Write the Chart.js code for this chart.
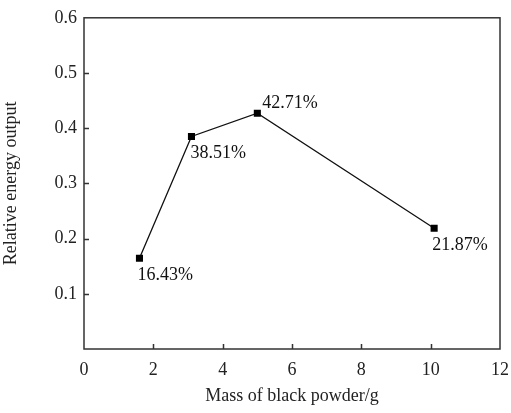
<!DOCTYPE html>
<html>
<head>
<meta charset="utf-8">
<script src="https://cdn.jsdelivr.net/npm/chart.js@4.4.0/dist/chart.umd.min.js"></script>
<style>
    html, body { margin: 0; padding: 0; background: #fff; }
    #wrap { width: 511px; height: 413px; }
</style>
</head>
<body>
<div id="wrap"><canvas id="energyChart" width="511" height="413"></canvas></div>
<script>
// data
var powderMass = [1.6, 3.1, 5, 10.1];
var energyOutput = [0.1643, 0.3851, 0.4271, 0.2187];
var xTicks = [0, 2, 4, 6, 8, 10, 12];
var yTicks = [0.1, 0.2, 0.3, 0.4, 0.5, 0.6];

// where each % label sits relative to its point
var labelOffsets = [[-2, 17], [-1, 17], [5, -10], [-2, 17]];

var serif = '"Liberation Serif", "Times New Roman", serif';
var frameColor = '#333';

// frame on all four sides + inward ticks
var framePlugin = {
    id: 'frame',
    afterDraw: function(chart) {
        var ctx = chart.ctx;
        var a = chart.chartArea;
        var xs = chart.scales.x, ys = chart.scales.y;
        ctx.save();
        ctx.strokeStyle = frameColor;
        ctx.lineWidth = 1.5;
        ctx.strokeRect(a.left, a.top, a.right - a.left, a.bottom - a.top);
        ctx.beginPath();
        xTicks.forEach(function(v) {
            if (v == 0 || v == 12) return;
            var px = Math.round(xs.getPixelForValue(v)) + 0.5;
            ctx.moveTo(px, a.bottom);
            ctx.lineTo(px, a.bottom - 5);
        });
        yTicks.forEach(function(v) {
            if (v >= 0.6) return;
            var py = Math.round(ys.getPixelForValue(v)) + 0.5;
            ctx.moveTo(a.left, py);
            ctx.lineTo(a.left + 5, py);
        });
        ctx.stroke();
        ctx.restore();
    }
};

// percentage labels next to the points
var valueLabels = {
    id: 'valueLabels',
    afterDatasetsDraw: function(chart) {
        var ctx = chart.ctx;
        var pts = chart.getDatasetMeta(0).data;
        ctx.save();
        ctx.fillStyle = '#111';
        ctx.font = '18px ' + serif;
        ctx.textAlign = 'left';
        ctx.textBaseline = 'middle';
        pts.forEach(function(p, i) {
            var txt = (energyOutput[i] * 100).toFixed(2) + '%';
            ctx.fillText(txt, p.x + labelOffsets[i][0], p.y + labelOffsets[i][1]);
        });
        ctx.restore();
    }
};

var ctx = document.getElementById('energyChart').getContext('2d');
var energyChart = new Chart(ctx, {
    type: 'scatter',
    data: {
        datasets: [{
            data: powderMass.map(function(m, i) { return {x: m, y: energyOutput[i]}; }),
            showLine: true,
            borderColor: '#111',
            borderWidth: 1.3,
            backgroundColor: '#000',
            pointStyle: 'rect',
            pointRadius: 5,
            pointBorderWidth: 0
        }]
    },
    options: {
        responsive: false,
        animation: false,
        layout: { padding: { top: 17, right: 11, left: 0, bottom: 0 } },
        plugins: {
            legend: { display: false },
            tooltip: { enabled: false }
        },
        scales: {
            x: {
                type: 'linear',
                min: 0,
                max: 12,
                afterBuildTicks: function(s) { s.ticks = xTicks.map(function(v) { return {value: v}; }); },
                afterFit: function(s) { s.height = 64; s.paddingRight = 0; s.paddingLeft = 0; },
                grid: { display: false, drawTicks: false },
                border: { display: false },
                ticks: {
                    color: '#222',
                    padding: 10,
                    font: { family: serif, size: 18 },
                    callback: function(v) { return v; }
                },
                title: {
                    display: true,
                    text: 'Mass of black powder/g',
                    color: '#222',
                    font: { family: serif, size: 18 },
                    padding: { top: 3, bottom: 6 }
                }
            },
            y: {
                min: 0,
                max: 0.6,
                afterBuildTicks: function(s) { s.ticks = yTicks.map(function(v) { return {value: v}; }); },
                afterFit: function(s) { s.width = 84; },
                grid: { display: false, drawTicks: false },
                border: { display: false },
                ticks: {
                    color: '#222',
                    padding: 7,
                    font: { family: serif, size: 18 },
                    callback: function(v) { return v.toFixed(1); }
                },
                title: {
                    display: true,
                    text: 'Relative energy output',
                    color: '#222',
                    font: { family: serif, size: 18 },
                    padding: { top: 0, bottom: 6 }
                }
            }
        }
    },
    plugins: [framePlugin, valueLabels]
});
</script>
</body>
</html>
